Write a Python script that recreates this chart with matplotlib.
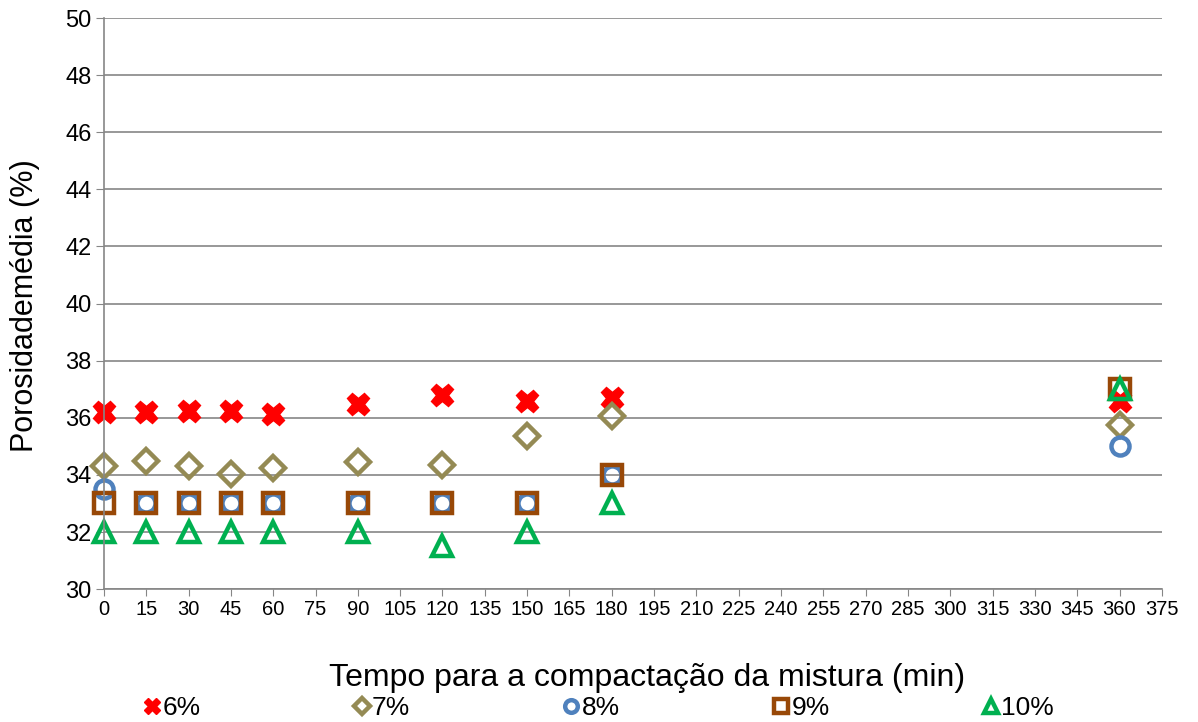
import matplotlib
matplotlib.use('Agg')
import matplotlib.pyplot as plt

plt.rcParams['font.family'] = ['Liberation Sans', 'DejaVu Sans']

tempo = [0, 15, 30, 45, 60, 90, 120, 150, 180, 360]
p6 = [36.2, 36.2, 36.25, 36.25, 36.15, 36.5, 36.8, 36.6, 36.7, 36.6]
p7 = [34.3, 34.5, 34.3, 34.05, 34.25, 34.45, 34.35, 35.35, 36.05, 35.75]
p8 = [33.5, 33.0, 33.0, 33.0, 33.0, 33.0, 33.0, 33.0, 34.0, 35.0]
p9 = [33.0, 33.0, 33.0, 33.0, 33.0, 33.0, 33.0, 33.0, 34.0, 37.0]
p10 = [32.0, 32.0, 32.0, 32.0, 32.0, 32.0, 31.5, 32.0, 33.0, 37.0]

# label, values, marker, colour, marker size
series = [
    ('6%', p6, 'X', '#FF0000', 16),
    ('7%', p7, 'D', '#948A54', 12),
    ('8%', p8, 'o', '#4F81BD', 13),
    ('9%', p9, 's', '#984807', 14),
    ('10%', p10, '^', '#00B050', 14),
]

fig = plt.figure(figsize=(11.98, 7.22), dpi=100)
ax = fig.add_axes([0.0868, 0.184, 0.883, 0.791])

for label, vals, mk, col, size in series:
    if mk == 'X':
        ax.plot(tempo, vals, linestyle='none', marker=mk, markersize=size,
                color=col, markeredgecolor=col, label=label, clip_on=False)
    else:
        ax.plot(tempo, vals, linestyle='none', marker=mk, markersize=size,
                markerfacecolor='none', markeredgecolor=col,
                markeredgewidth=3.2, label=label, clip_on=False)

ax.set_xlim(0, 375)
ax.set_ylim(30, 50)
ax.set_xticks(range(0, 376, 15))
ax.set_yticks(range(30, 51, 2))
ax.tick_params(axis='x', labelsize=14.5, length=5, color='#868686', direction='out', pad=3)
ax.tick_params(axis='y', labelsize=17, length=6, color='#868686', direction='out', pad=3)
ax.yaxis.grid(True, color='#868686', linewidth=1.2)
ax.set_axisbelow(True)
for s in ['top', 'right']:
    ax.spines[s].set_visible(False)
for s in ['left', 'bottom']:
    ax.spines[s].set_color('#868686')
    ax.spines[s].set_linewidth(1.2)

ax.set_ylabel('Porosidademédia (%)', fontsize=22, va='center')
ax.yaxis.set_label_coords(-0.0747, 0.497)
ax.set_xlabel('Tempo para a compactação da mistura (min)', fontsize=23, va='center')
ax.xaxis.set_label_coords(0.513, -0.156)

handles, labels = ax.get_legend_handles_labels()
leg = fig.legend(handles, labels, loc='center', ncol=5, frameon=False,
                 bbox_to_anchor=(0.5, 0.0194), fontsize=19, handlelength=0.6,
                 handletextpad=0.1, columnspacing=5.8, markerscale=0.7)

fig.savefig('out.png', dpi=100)
plt.close()
